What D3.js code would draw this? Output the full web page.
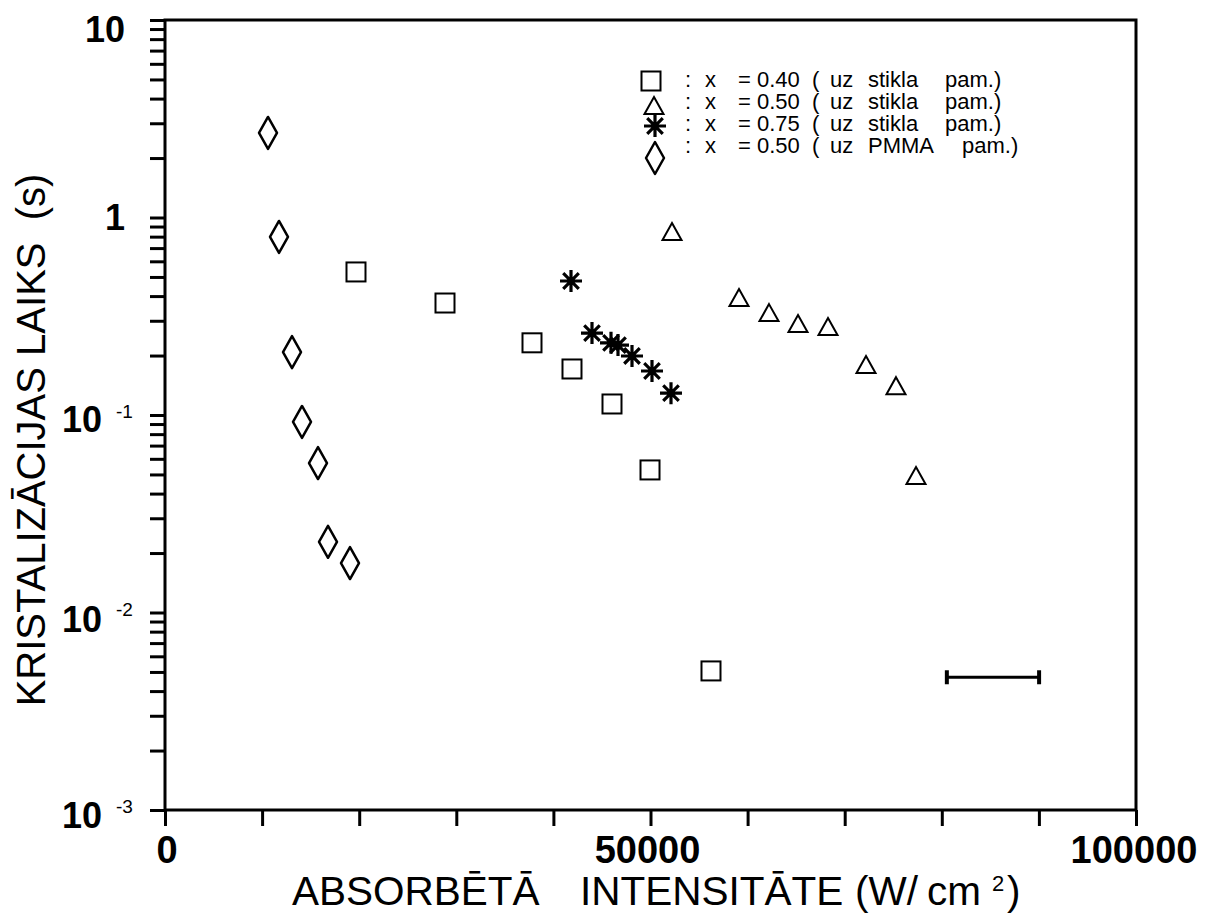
<!DOCTYPE html>
<html>
<head>
<meta charset="utf-8">
<script src="https://cdn.jsdelivr.net/npm/d3@7"></script>
<style>
  body { margin: 0; background: #fff; }
  text { font-family: "Liberation Sans", Arial, sans-serif; fill: #000; }
</style>
</head>
<body>
<script>
// ---------- data ----------
const squareX = [19670, 28836, 37796, 41915, 46035, 49949, 56230];
const squareY = [0.530, 0.369, 0.232, 0.171, 0.1137, 0.0527, 0.00506];

const triangleX = [52214, 59114, 62204, 65191, 68280, 72194, 75283, 77343];
const triangleY = [0.845, 0.391, 0.328, 0.289, 0.279, 0.179, 0.140, 0.0491];

const asteriskX = [41813, 43975, 45932, 46653, 48095, 50154, 52111];
const asteriskY = [0.477, 0.260, 0.232, 0.226, 0.199, 0.167, 0.129];

const diamondX = [10608, 11740, 13080, 14110, 15757, 16787, 19052];
const diamondY = [2.68, 0.797, 0.208, 0.0922, 0.0571, 0.0228, 0.0178];

const errorBarCenter = 85270;
const errorBarHalf = 4750;
const errorBarY = 0.0047;

const xTickValues = [0, 10000, 20000, 30000, 40000, 50000, 60000, 70000, 80000, 90000, 100000];
const xTickLabels = ["0", "", "", "", "", "50000", "", "", "", "", "100000"];

const yDecades = [10, 1, 0.1, 0.01, 0.001];
const yTickMain = ["10", "1", "10", "10", "10"];
const yTickExp = ["", "", "-1", "-2", "-3"];

const legendSymbols = ["square", "triangle", "asterisk", "diamond"];
const legendXval = ["= 0.40", "= 0.50", "= 0.75", "= 0.50"];
const legendSub = ["stikla", "stikla", "stikla", "PMMA"];

const xTitleParts = ["ABSORBĒTĀ", "INTENSITĀTE", "(W/", "cm", "2", ")"];
const yTitle = "KRISTALIZĀCIJAS LAIKS  (s)";

// ---------- layout ----------
const W = 1212, H = 918;
const L = 165, R = 1136, T = 20, B = 810;

const svg = d3.select("body").append("svg")
  .attr("width", W).attr("height", H)
  .style("display", "block");

svg.append("rect").attr("width", W).attr("height", H).attr("fill", "#fff");

const x = d3.scaleLinear().domain([0, 100000]).range([L, R]);
const y = d3.scaleLog().domain([0.001, 10]).range([B, T]);

// minor ticks for log axis
const yTicksAll = [];
for (let e = -3; e < 1; e++) {
  for (let m = 1; m <= 9; m++) yTicksAll.push(m * Math.pow(10, e));
}
yTicksAll.push(10);

// y axis ticks
const yAxis = svg.append("g").attr("transform", `translate(${L},0)`)
  .call(d3.axisLeft(y).tickValues(yTicksAll).tickSize(15).tickSizeOuter(0).tickFormat(""));
yAxis.select(".domain").remove();
yAxis.selectAll(".tick line").attr("stroke", "#000").attr("stroke-width", 3);

// x axis ticks
const xAxis = svg.append("g").attr("transform", `translate(0,${B})`)
  .call(d3.axisBottom(x).tickValues(xTickValues).tickSize(16).tickSizeOuter(0).tickFormat(""));
xAxis.select(".domain").remove();
xAxis.selectAll(".tick line").attr("stroke", "#000").attr("stroke-width", 3);

// frame
svg.append("rect").attr("x", L).attr("y", T).attr("width", R - L).attr("height", B - T)
  .attr("fill", "none").attr("stroke", "#000").attr("stroke-width", 3);

// x tick labels
svg.append("g").selectAll("text").data(xTickValues.map((v, i) => ({v, t: xTickLabels[i]})).filter(d => d.t))
  .join("text")
  .attr("x", d => x(d.v) + (d.v === 0 ? 2 : (d.v === 50000 ? -3 : -2)))
  .attr("y", 863)
  .attr("text-anchor", "middle")
  .attr("font-size", 38).attr("font-weight", "bold")
  .text(d => d.t);

// y tick labels
const yLabelOffsets = [22, 12.5, 17, 19.5, 18];
yDecades.forEach((v, i) => {
  const ty = y(v);
  if (!yTickExp[i]) {
    svg.append("text").attr("x", 125).attr("y", ty + yLabelOffsets[i])
      .attr("text-anchor", "end").attr("font-size", 36).attr("font-weight", "bold")
      .text(yTickMain[i]);
  } else {
    svg.append("text").attr("x", 102).attr("y", ty + yLabelOffsets[i])
      .attr("text-anchor", "end").attr("font-size", 36).attr("font-weight", "bold")
      .text(yTickMain[i]);
    svg.append("text").attr("x", 116).attr("y", ty + 3)
      .attr("font-size", 19)
      .text(yTickExp[i]);
  }
});

// axis titles
const xTitlePos = [292, 580, 855, 927, 992, 1007];
const xt = svg.append("g");
xTitleParts.forEach((t, i) => {
  const sup = (t === "2");
  xt.append("text").attr("x", xTitlePos[i]).attr("y", sup ? 891 : 905)
    .attr("font-size", sup ? 22 : 40.5).text(t);
});

svg.append("text")
  .attr("transform", "translate(45,440) rotate(-90)")
  .attr("text-anchor", "middle")
  .attr("font-size", 40)
  .style("white-space", "pre")
  .text(yTitle);

// ---------- marker drawing ----------
function drawMarker(g, type, cx, cy) {
  if (type === "square") {
    g.append("rect").attr("x", cx - 9.5).attr("y", cy - 9.5).attr("width", 19).attr("height", 19)
      .attr("fill", "none").attr("stroke", "#000").attr("stroke-width", 2);
  } else if (type === "triangle") {
    g.append("path").attr("d", `M${cx},${cy - 9} L${cx + 9.5},${cy + 8} L${cx - 9.5},${cy + 8} Z`)
      .attr("fill", "none").attr("stroke", "#000").attr("stroke-width", 2).attr("stroke-linejoin", "miter");
  } else if (type === "diamond") {
    g.append("path").attr("d", `M${cx},${cy - 16} L${cx + 9},${cy} L${cx},${cy + 16} L${cx - 9},${cy} Z`)
      .attr("fill", "none").attr("stroke", "#000").attr("stroke-width", 2.5).attr("stroke-linejoin", "round");
  } else if (type === "asterisk") {
    const r = 11, d = r * Math.SQRT1_2;
    g.append("path")
      .attr("d", `M${cx - r},${cy} L${cx + r},${cy} M${cx},${cy - r} L${cx},${cy + r} M${cx - d},${cy - d} L${cx + d},${cy + d} M${cx - d},${cy + d} L${cx + d},${cy - d}`)
      .attr("fill", "none").attr("stroke", "#000").attr("stroke-width", 3.2);
  }
}

function drawSeries(type, xs, ys) {
  const g = svg.append("g").attr("class", "series-" + type);
  xs.forEach((v, i) => drawMarker(g, type, x(v), y(ys[i])));
}

drawSeries("diamond", diamondX, diamondY);
drawSeries("square", squareX, squareY);
drawSeries("triangle", triangleX, triangleY);
drawSeries("asterisk", asteriskX, asteriskY);

// error bar
const eb = svg.append("g");
const ex1 = x(errorBarCenter - errorBarHalf), ex2 = x(errorBarCenter + errorBarHalf), ey = y(errorBarY);
eb.append("line").attr("x1", ex1).attr("x2", ex2).attr("y1", ey).attr("y2", ey)
  .attr("stroke", "#000").attr("stroke-width", 3);
[ex1, ex2].forEach(ex => eb.append("line").attr("x1", ex).attr("x2", ex).attr("y1", ey - 7).attr("y2", ey + 7)
  .attr("stroke", "#000").attr("stroke-width", 4));

// ---------- legend ----------
const legBase = [87, 109, 131, 153];
const legSymY = [81, 106, 126, 158];
const legSymX = [651, 654, 655, 655];
const leg = svg.append("g");
legendSymbols.forEach((s, i) => {
  drawMarker(leg, s, legSymX[i], legSymY[i]);
  const by = legBase[i];
  const fs = 22;
  leg.append("text").attr("x", 685).attr("y", by).attr("font-size", fs).text(":");
  leg.append("text").attr("x", 705).attr("y", by).attr("font-size", fs).text("x");
  leg.append("text").attr("x", 738).attr("y", by).attr("font-size", fs).style("white-space", "pre").text(legendXval[i]);
  leg.append("text").attr("x", 812).attr("y", by).attr("font-size", fs).text("(");
  leg.append("text").attr("x", 830).attr("y", by).attr("font-size", fs).text("uz");
  leg.append("text").attr("x", 868).attr("y", by).attr("font-size", fs).text(legendSub[i]);
  leg.append("text").attr("x", legendSub[i] === "PMMA" ? 962 : 945).attr("y", by).attr("font-size", fs).text("pam.)");
});
</script>
</body>
</html>
